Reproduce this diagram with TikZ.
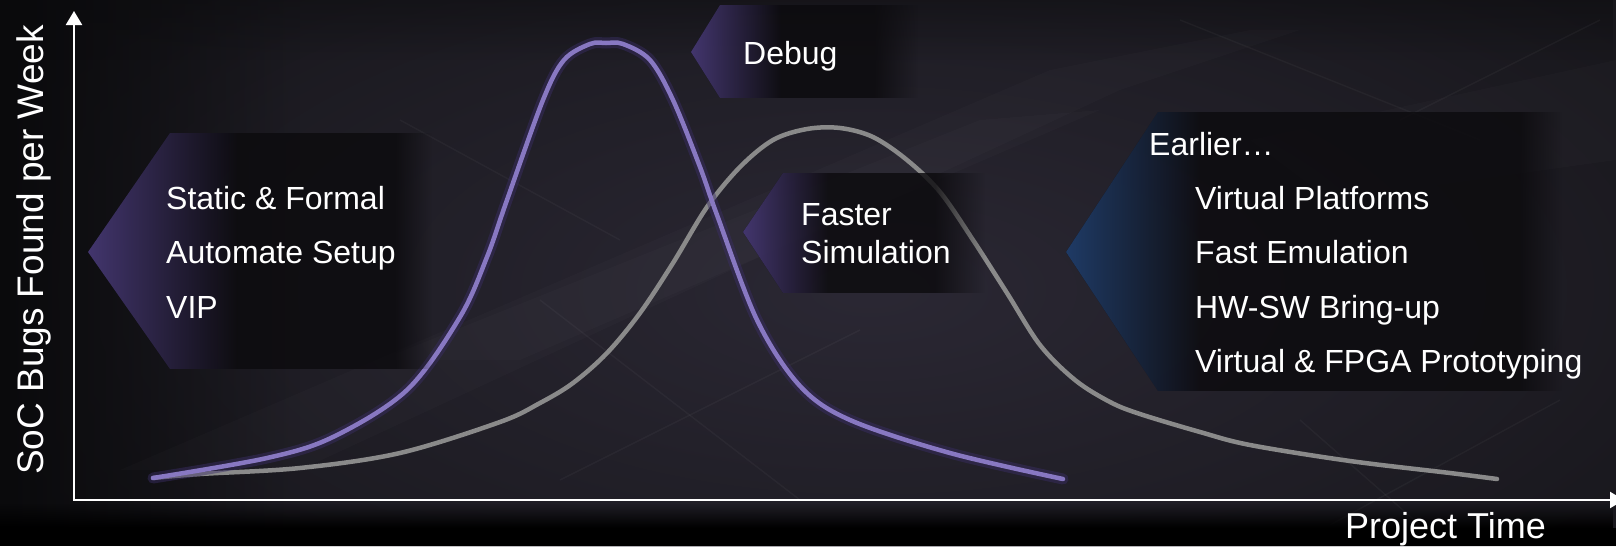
\documentclass[tikz,border=0pt]{standalone}
\usepackage{fontspec}
\setmainfont{Liberation Sans}
\usetikzlibrary{arrows.meta,fadings}

% palette
\definecolor{bgbase}{HTML}{18171C}
\definecolor{bgglow}{HTML}{2B2834}
\definecolor{edgedark}{HTML}{0A0A0C}
\definecolor{tagdark}{HTML}{0C0B0E}
\definecolor{tagpurple}{HTML}{43366E}
\definecolor{tagblue}{HTML}{1F3B66}
\definecolor{curvepurple}{HTML}{8878C2}
\definecolor{curvehalo}{HTML}{3B2E68}
\definecolor{curvegray}{HTML}{8A8A8A}

% fadings
\tikzfading[name=tagfade, left color=transparent!18, right color=transparent!100]
\tikzfading[name=fadeeast, left color=transparent!0, right color=transparent!100]
\tikzfading[name=fadesouth, top color=transparent!100, bottom color=transparent!0]
\tikzfading[name=fadenorth, top color=transparent!0, bottom color=transparent!100]
\tikzfading[name=glowfade, inner color=transparent!0, outer color=transparent!100]

% arrow-shaped label panel:
% #1 tip x, #2 tip y, #3 corner x, #4 top, #5 bottom, #6 fade start x, #7 right end x,
% #8 tint colour, #9 tint length
\newcommand\tagshape[9]{%
  \begin{scope}
    \clip (#1,#2) -- (#3,#4) -- (#6,#4) -- (#6,#5) -- (#3,#5) -- cycle;
    \fill[tagdark, fill opacity=0.82] (#1,#4) rectangle (#6,#5);
    \fill[#8, path fading=fadeeast] (#1,#4) rectangle ({#1+#9},#5);
  \end{scope}
  \fill[tagdark, path fading=tagfade] (#6,#4) rectangle (#7,#5);
}

\tikzset{
  tagtext/.style={anchor=base west, inner sep=0pt, text=white,
    font=\fontsize{32}{38}\selectfont},
  axislabel/.style={inner sep=0pt, text=white},
  axisline/.style={draw=white, line width=2.2pt,
    {Triangle[length=14pt,width=16pt]}-{Triangle[length=14pt,width=16pt]}},
  graycurve/.style={draw=curvegray, line width=4.5pt, line cap=round},
  purplehalo/.style={draw=curvehalo, line width=11pt, line cap=round, draw opacity=0.45},
  purplecurve/.style={draw=curvepurple, line width=4.5pt, line cap=round},
  streak/.style={fill=white, fill opacity=0.016},
  hairline/.style={draw=white, draw opacity=0.035, line width=1.4pt},
}

\begin{document}
\begin{tikzpicture}[x=1pt, y=-1pt]
  \useasboundingbox (0,0) rectangle (1616,546);

  % ---------- backdrop ----------
  \fill[bgbase] (0,0) rectangle (1616,546);
  \fill[bgglow, path fading=glowfade] (870,290) ellipse [x radius=980, y radius=430];
  \fill[edgedark, path fading=fadeeast] (0,0) rectangle (300,546);
  \fill[edgedark, path fading=fadenorth, fill opacity=0.4] (0,0) rectangle (1616,60);

  % soft diagonal streaks
  \fill[streak] (120,470) -- (1050,70) -- (1250,30) -- (1300,30) -- (1120,90) -- (300,470) -- cycle;
  \fill[streak] (380,360) -- (980,120) -- (1100,110) -- (520,360) -- cycle;
  \fill[streak] (1250,140) -- (1616,60) -- (1616,160) -- (1330,200) -- cycle;
  \draw[hairline] (540,300) -- (800,500);
  \draw[hairline] (560,480) -- (860,330);
  \draw[hairline] (1300,420) -- (1420,525);
  \draw[hairline] (1330,525) -- (1560,400);
  \draw[hairline] (400,120) -- (620,240);
  \draw[hairline] (1180,20) -- (1480,140);
  \draw[hairline] (1400,120) -- (1600,20);

  % dark floor below the chart
  \fill[black, path fading=fadesouth] (0,503) rectangle (1616,528);
  \fill[black] (0,527.5) rectangle (1616,546);

  % ---------- curves ----------
  \draw[graycurve] plot[smooth, tension=0.55] coordinates {
    (153,478) (200,474) (300,468) (400,453) (500,422) (540,403) (573,383)
    (607,353) (640,313) (673,263) (707,207) (740,167) (773,140) (807,129)
    (840,128) (873,137) (907,160) (940,192) (973,240) (1007,293) (1040,345)
    (1075,380) (1110,402) (1140,414) (1200,432) (1250,445) (1350,461)
    (1450,473) (1497,479)};

  \draw[purplehalo] plot[smooth, tension=0.55] coordinates {
    (153,478) (267,458) (333,437) (407,390) (460,317) (487,257) (507,200)
    (543,100) (564,60) (590,44) (606,43) (623,44) (650,60) (673,100)
    (700,167) (717,215) (757,320) (800,386) (850,420) (950,453) (1063,479)};
  \draw[purplecurve] plot[smooth, tension=0.55] coordinates {
    (153,478) (267,458) (333,437) (407,390) (460,317) (487,257) (507,200)
    (543,100) (564,60) (590,44) (606,43) (623,44) (650,60) (673,100)
    (700,167) (717,215) (757,320) (800,386) (850,420) (950,453) (1063,479)};

  % ---------- label panels ----------
  \tagshape{88}{252}{170}{133}{369}{395}{432}{tagpurple}{150}
  \tagshape{691}{52}{720}{5}{98}{875}{918}{tagpurple}{90}
  \tagshape{743}{232}{783}{173}{293}{935}{985}{tagpurple}{85}
  \tagshape{1066}{252}{1158}{112}{391}{1520}{1562}{tagblue}{135}

  \node[tagtext] (static)  at (166,209) {Static \& Formal};
  \node[tagtext] (setup)   at (166,263) {Automate Setup};
  \node[tagtext] (vip)     at (166,318) {VIP};

  \node[tagtext] (debug)   at (743,64)  {Debug};

  \node[tagtext] (faster)  at (801,225) {Faster};
  \node[tagtext] (simul)   at (801,263) {Simulation};

  \node[tagtext] (earlier) at (1149,155) {Earlier…};
  \node[tagtext] (vplat)   at (1195,209) {Virtual Platforms};
  \node[tagtext] (femu)    at (1195,263) {Fast Emulation};
  \node[tagtext] (hwsw)    at (1195,318) {HW-SW Bring-up};
  \node[tagtext] (proto)   at (1195,372) {Virtual \& FPGA Prototyping};

  % ---------- axes ----------
  \coordinate (origin) at (74,500);
  \coordinate (ytip)   at (74,11);
  \coordinate (xtip)   at (1624,500);
  \draw[axisline] (ytip) -- (origin) -- (xtip);

  \node[axislabel, anchor=base west, font=\fontsize{36}{40}\selectfont]
    (ptime) at (1345,538) {Project Time};
  \node[axislabel, rotate=90, anchor=base, font=\fontsize{37}{40}\selectfont]
    (bugs) at (43,250) {SoC Bugs Found per Week};
\end{tikzpicture}
\end{document}
